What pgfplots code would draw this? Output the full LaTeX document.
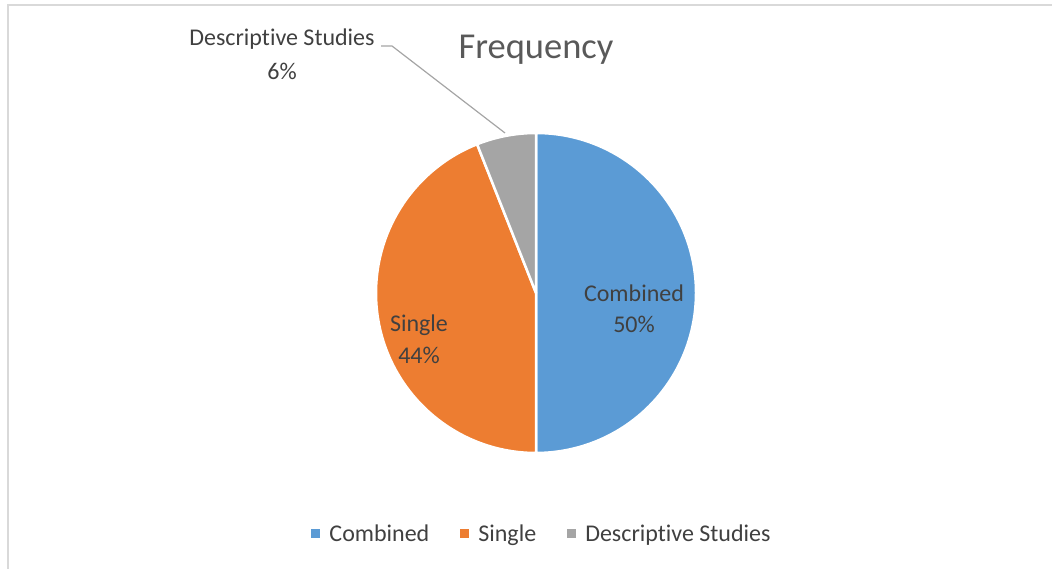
\documentclass[border=0pt]{standalone}
\usepackage{pgfplots}
\pgfplotsset{compat=1.18}
\usepackage{pgfplotstable}
\usepackage{fontspec}
\setmainfont{Carlito}[Ligatures={NoCommon}]
\definecolor{cA}{HTML}{5B9BD5}
\definecolor{cB}{HTML}{ED7D31}
\definecolor{cC}{HTML}{A5A5A5}
\definecolor{txt}{HTML}{404040}
\definecolor{ttl}{HTML}{595959}
\definecolor{frm}{HTML}{D9D9D9}
\pgfplotstableread{
name value
Combined 50
Single 44
Descriptive 6
}\piedata
\pgfplotstablegetelem{0}{value}\of\piedata \let\vA\pgfplotsretval
\pgfplotstablegetelem{1}{value}\of\piedata \let\vB\pgfplotsretval
\pgfplotstablegetelem{2}{value}\of\piedata \let\vC\pgfplotsretval
\pgfmathsetmacro\aA{90}
\pgfmathsetmacro\aB{\aA-3.6*\vA}
\pgfmathsetmacro\aC{\aB-3.6*\vB}
\pgfmathsetmacro\aD{\aC-3.6*\vC}
\begin{document}
\begin{tikzpicture}
\begin{axis}[
  width=1052bp, height=569bp, scale only axis,
  xmin=0, xmax=1052, ymin=0, ymax=569,
  hide axis, clip=false,
  legend image code/.code={\fill[#1] (0bp,-4.5bp) rectangle (9bp,4.5bp);},
  legend style={at={(axis cs:541,35)}, anchor=center, draw=none, fill=none,
    font=\fontsize{24bp}{28bp}\selectfont, text=txt,
    /tikz/every even column/.append style={column sep=31bp},
    /tikz/every odd column/.append style={column sep=9bp},
    nodes={inner xsep=0bp}},
  legend columns=-1,
]
\addlegendimage{fill=cA, draw=none}
\addlegendentry{Combined}
\addlegendimage{fill=cB, draw=none}
\addlegendentry{Single}
\addlegendimage{fill=cC, draw=none}
\addlegendentry{Descriptive Studies}
\coordinate (SW) at (axis cs:0,0);
\coordinate (NE) at (axis cs:1052,569);
% frame
\draw[frm, line width=1.5bp] (axis cs:1052,564) -- (axis cs:8,564) -- (axis cs:8,0);
% slices
\filldraw[fill=cA, draw=white, line width=2.5bp, line join=round]
  (axis cs:536,276) -- ++(\aA:160bp) arc[start angle=\aA, end angle=\aB, radius=160bp] -- cycle;
\filldraw[fill=cB, draw=white, line width=2.5bp, line join=round]
  (axis cs:536,276) -- ++(\aB:160bp) arc[start angle=\aB, end angle=\aC, radius=160bp] -- cycle;
\filldraw[fill=cC, draw=white, line width=2.5bp, line join=round]
  (axis cs:536,276) -- ++(\aC:160bp) arc[start angle=\aC, end angle=\aD, radius=160bp] -- cycle;
% leader
\draw[cC, line width=1.2bp] (axis cs:381,523) -- (axis cs:392,523) -- (axis cs:505,436);
% labels
\begin{scope}[every node/.style={text=txt, font=\fontsize{24bp}{28bp}\selectfont, inner sep=0pt}]
\node at (axis cs:634,276) {Combined};
\node at (axis cs:634,245) {50\%};
\node at (axis cs:419,244) {Single};
\node at (axis cs:419,214) {44\%};
\node at (axis cs:282,530) {Descriptive Studies};
\node at (axis cs:282,498) {6\%};
\end{scope}
\node[text=ttl, font=\fontsize{36.5bp}{42bp}\selectfont, inner sep=0pt] at (axis cs:536,519) {Frequency};
\end{axis}
\pgfresetboundingbox
\path[use as bounding box] (SW) rectangle (NE);
\end{tikzpicture}
\end{document}
